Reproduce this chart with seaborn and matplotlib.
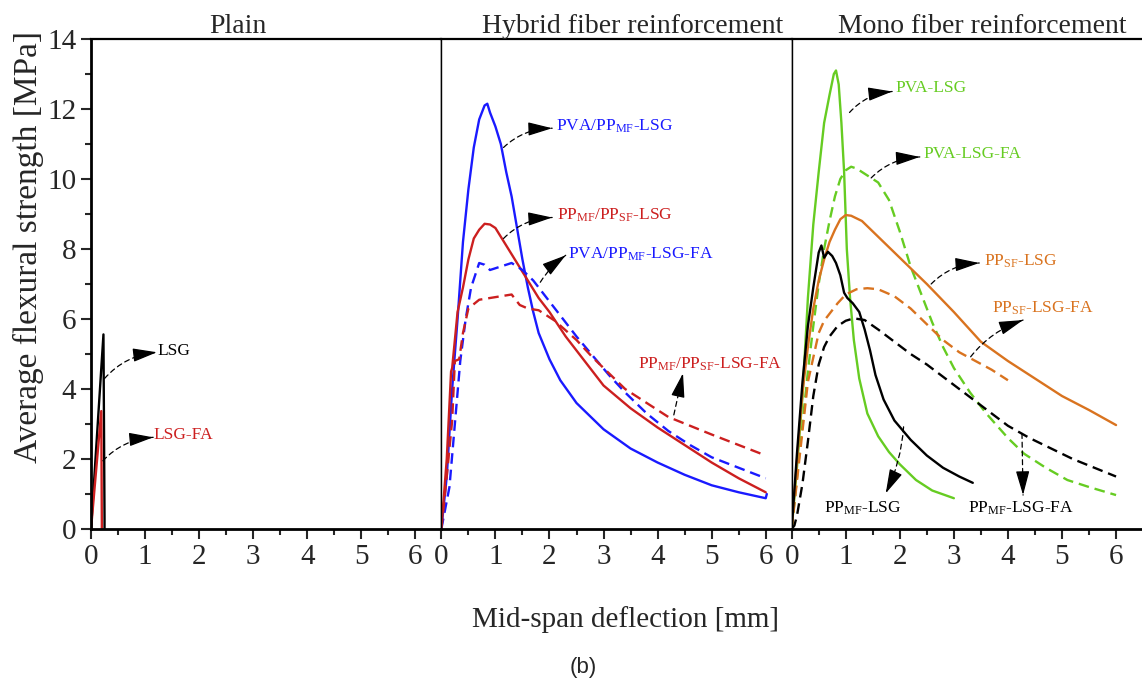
import numpy as np
import pandas as pd
import matplotlib
matplotlib.use('Agg')
import matplotlib.pyplot as plt
import seaborn as sns

# ---- data ----
# Plain
lsg_x = [0, 0.23, 0.25, 0.25]
lsg_y = [0, 5.56, 0.3, 0]
lsgfa_x = [0, 0.19, 0.2, 0.2]
lsgfa_y = [0, 3.37, 0.2, 0]

# Hybrid fiber reinforcement
pva_pp_x = [0, 0.1, 0.2, 0.3, 0.4, 0.5, 0.6, 0.7, 0.8, 0.85, 0.9, 1.0, 1.1, 1.2, 1.3, 1.4,
            1.5, 1.6, 1.7, 1.8, 2.0, 2.2, 2.5, 3.0, 3.5, 4.0, 4.5, 5.0, 5.5, 6.0, 6.02]
pva_pp_y = [0, 1.5, 4.0, 6.0, 8.2, 9.7, 10.9, 11.7, 12.1, 12.15, 11.9, 11.5, 11.0, 10.2, 9.5, 8.6,
            7.7, 6.9, 6.2, 5.6, 4.85, 4.25, 3.6, 2.85, 2.3, 1.9, 1.55, 1.25, 1.05, 0.88, 1.0]
pp_pp_x = [0, 0.1, 0.18, 0.2, 0.3, 0.4, 0.5, 0.6, 0.7, 0.8, 0.9, 1.0, 1.1, 1.2, 1.4, 1.6,
           1.8, 2.0, 2.3, 2.6, 3.0, 3.5, 4.0, 4.5, 5.0, 5.5, 6.0]
pp_pp_y = [0, 2.0, 4.5, 4.6, 6.2, 6.9, 7.7, 8.3, 8.55, 8.72, 8.7, 8.6, 8.35, 8.1, 7.6, 7.1,
           6.6, 6.2, 5.5, 4.9, 4.1, 3.45, 2.9, 2.4, 1.9, 1.45, 1.05]
pva_pp_fa_x = [0, 0.15, 0.25, 0.35, 0.45, 0.55, 0.7, 0.8, 0.9, 1.1, 1.3, 1.5, 1.7, 1.9,
               2.2, 2.5, 2.8, 3.1, 3.4, 3.8, 4.2, 4.6, 5.0, 5.5, 6.0]
pva_pp_fa_y = [0, 1.2, 3.0, 4.8, 6.0, 6.9, 7.6, 7.55, 7.4, 7.5, 7.6, 7.4, 7.1, 6.7,
               6.1, 5.5, 4.95, 4.4, 3.9, 3.3, 2.8, 2.4, 2.05, 1.75, 1.45]
pp_pp_fa_x = [0, 0.1, 0.2, 0.25, 0.33, 0.4, 0.5, 0.7, 0.9, 1.1, 1.3, 1.45, 1.6, 1.8, 2.1,
              2.5, 2.8, 3.1, 3.4, 3.8, 4.2, 4.6, 5.0, 5.5, 6.0]
pp_pp_fa_y = [0, 1.5, 3.1, 4.8, 4.85, 5.6, 6.3, 6.55, 6.6, 6.65, 6.7, 6.4, 6.3, 6.25, 5.95,
              5.4, 4.9, 4.45, 4.0, 3.6, 3.2, 2.95, 2.7, 2.4, 2.1]

# Mono fiber reinforcement
pva_x = [0, 0.1, 0.2, 0.3, 0.4, 0.5, 0.6, 0.7, 0.78, 0.82, 0.87, 0.92, 0.97, 1.02, 1.08,
         1.15, 1.25, 1.4, 1.6, 1.8, 2.0, 2.3, 2.6, 3.0]
pva_y = [0, 1.8, 3.8, 6.6, 8.7, 10.2, 11.6, 12.4, 13.0, 13.1, 12.7, 11.6, 10.2, 8.0, 6.6,
         5.4, 4.3, 3.3, 2.65, 2.2, 1.85, 1.4, 1.1, 0.88]
ppmf_x = [0, 0.1, 0.2, 0.3, 0.4, 0.5, 0.55, 0.6, 0.67, 0.75, 0.82, 0.9, 0.97, 1.03, 1.13,
          1.25, 1.35, 1.45, 1.55, 1.7, 1.9, 2.2, 2.5, 2.8, 3.1, 3.35]
ppmf_y = [0, 2.2, 4.2, 5.8, 6.9, 7.9, 8.1, 7.75, 7.92, 7.8, 7.6, 7.25, 6.75, 6.6, 6.45,
          6.2, 5.7, 5.1, 4.4, 3.7, 3.1, 2.55, 2.1, 1.75, 1.5, 1.32]
ppsf_x = [0, 0.1, 0.2, 0.3, 0.4, 0.5, 0.6, 0.7, 0.8, 0.9, 1.0, 1.1, 1.3, 1.5, 1.8, 2.1,
          2.5, 3.0, 3.5, 4.0, 4.5, 5.0, 5.5, 6.0]
ppsf_y = [0, 2.0, 3.9, 5.2, 6.3, 7.1, 7.7, 8.2, 8.55, 8.85, 8.97, 8.95, 8.8, 8.5, 8.05, 7.6,
          7.0, 6.2, 5.35, 4.8, 4.3, 3.8, 3.4, 2.97]
ppsf_fa_x = [0, 0.1, 0.2, 0.3, 0.4, 0.5, 0.6, 0.7, 0.85, 1.0, 1.2, 1.4, 1.6, 1.9, 2.2, 2.5,
             2.8, 3.1, 3.4, 3.7, 4.0]
ppsf_fa_y = [0, 1.4, 2.8, 4.2, 4.9, 5.6, 5.95, 6.15, 6.45, 6.7, 6.85, 6.88, 6.85, 6.65, 6.3,
             5.85, 5.4, 5.05, 4.8, 4.55, 4.25]
pva_fa_x = [0, 0.1, 0.2, 0.3, 0.4, 0.5, 0.6, 0.7, 0.8, 0.9, 1.0, 1.1, 1.2, 1.4, 1.6, 1.8,
            2.0, 2.2, 2.4, 2.6, 2.8, 3.0, 3.3, 3.6, 4.0, 4.3, 4.7, 5.1, 5.5, 6.0]
pva_fa_y = [0, 1.5, 3.0, 4.5, 5.8, 7.0, 8.0, 8.8, 9.5, 10.0, 10.25, 10.35, 10.3, 10.1, 9.9,
            9.4, 8.5, 7.5, 6.7, 5.9, 5.2, 4.6, 3.9, 3.3, 2.6, 2.15, 1.75, 1.4, 1.2, 0.97]
ppmf_fa_x = [0, 0.05, 0.1, 0.2, 0.3, 0.4, 0.5, 0.6, 0.7, 0.85, 1.0, 1.15, 1.35, 1.6, 1.9,
             2.2, 2.5, 2.8, 3.1, 3.4, 3.7, 4.0, 4.4, 4.8, 5.2, 5.6, 6.0]
ppmf_fa_y = [0, 0.1, 0.4, 1.3, 2.5, 3.8, 4.7, 5.2, 5.5, 5.8, 5.95, 6.02, 5.97, 5.7, 5.35,
             5.0, 4.7, 4.35, 4.0, 3.65, 3.3, 2.95, 2.6, 2.3, 2.0, 1.75, 1.5]

titles = ['Plain', 'Hybrid fiber reinforcement', 'Mono fiber reinforcement']

BLACK = 'black'
RED = '#CC1F1F'
BLUE = '#1A1AFF'
GREEN = '#66CC22'
ORANGE = '#D9731F'

sns.set_style('ticks')
plt.rcParams['font.family'] = ['Liberation Serif', 'DejaVu Serif']
plt.rcParams['mathtext.fontset'] = 'custom'
plt.rcParams['mathtext.rm'] = 'Liberation Serif'
plt.rcParams['mathtext.it'] = 'Liberation Serif:italic'

fig, axes = plt.subplots(1, 3, sharey=True, figsize=(11.42, 6.91), dpi=100)
fig.subplots_adjust(left=0.0797, right=1.0, bottom=0.2344, top=0.9436, wspace=0)

series = [
    (0, lsg_x, lsg_y, BLACK, '-'),
    (0, lsgfa_x, lsgfa_y, RED, '-'),
    (1, pva_pp_x, pva_pp_y, BLUE, '-'),
    (1, pp_pp_x, pp_pp_y, RED, '-'),
    (1, pva_pp_fa_x, pva_pp_fa_y, BLUE, '--'),
    (1, pp_pp_fa_x, pp_pp_fa_y, RED, '--'),
    (2, pva_x, pva_y, GREEN, '-'),
    (2, pva_fa_x, pva_fa_y, GREEN, '--'),
    (2, ppsf_x, ppsf_y, ORANGE, '-'),
    (2, ppsf_fa_x, ppsf_fa_y, ORANGE, '--'),
    (2, ppmf_x, ppmf_y, BLACK, '-'),
    (2, ppmf_fa_x, ppmf_fa_y, BLACK, '--'),
]
for i, xs, ys, c, ls in series:
    d = pd.DataFrame({'x': xs, 'y': ys})
    sns.lineplot(data=d, x='x', y='y', ax=axes[i], color=c, linestyle=ls,
                 linewidth=1.7, sort=False, estimator=None)
    if ls == '--':
        axes[i].lines[-1].set_dashes((4.5, 2.5))

for ax in axes:
    ax.set_xlim(0, 6.48)
    ax.set_ylim(0, 14)


def label(ax, text, tail, head, tx, ty, color, rad=-0.2, ha='left'):
    # dashed curved body
    ax.annotate('', xy=head, xytext=tail,
                arrowprops=dict(arrowstyle='-', linestyle=(0, (4, 3)), color='black',
                                lw=0.9, connectionstyle=f'arc3,rad={rad}',
                                shrinkA=0, shrinkB=0))
    # solid head, following the tangent of the arc at its end
    p0 = ax.transData.transform(tail)
    p2 = ax.transData.transform(head)
    mid = (p0 + p2) / 2
    dx, dy = p2 - p0
    p1 = mid + rad * np.array([dy, -dx])
    t = 0.9
    pt = (1 - t) ** 2 * p0 + 2 * (1 - t) * t * p1 + t ** 2 * p2
    start = ax.transData.inverted().transform(pt)
    ax.annotate('', xy=head, xytext=start,
                arrowprops=dict(arrowstyle='-|>,head_length=1.5,head_width=0.42',
                                color='black', lw=0.9, shrinkA=0, shrinkB=0))
    ax.text(tx, ty, text, color=color, fontsize=12.5, ha=ha, va='center')


a0, a1, a2 = axes
label(a0, 'LSG', (0.25, 4.3), (1.22, 5.05), 1.22, 5.1, BLACK)
label(a0, 'LSG-FA', (0.22, 1.95), (1.15, 2.62), 1.15, 2.7, RED)

label(a1, r'PVA/PP$_{\rm MF}$-LSG', (1.15, 10.9), (2.05, 11.45), 2.12, 11.5, BLUE)
label(a1, r'PP$_{\rm MF}$/PP$_{\rm SF}$-LSG', (1.15, 8.3), (2.05, 8.9), 2.14, 8.95, RED)
label(a1, r'PVA/PP$_{\rm MF}$-LSG-FA', (1.83, 7.05), (2.3, 7.82), 2.35, 7.85, BLUE, rad=-0.1)
label(a1, r'PP$_{\rm MF}$/PP$_{\rm SF}$-LSG-FA', (4.3, 3.26), (4.47, 4.45), 3.64, 4.72, RED, rad=0)

label(a2, 'PVA-LSG', (1.07, 11.9), (1.86, 12.5), 1.92, 12.6, GREEN)
label(a2, 'PVA-LSG-FA', (1.47, 10.03), (2.37, 10.63), 2.43, 10.7, GREEN)
label(a2, r'PP$_{\rm SF}$-LSG', (2.58, 7.0), (3.47, 7.6), 3.55, 7.66, ORANGE)
label(a2, r'PP$_{\rm SF}$-LSG-FA', (3.31, 4.92), (4.28, 5.97), 3.7, 6.3, ORANGE, rad=-0.15)
label(a2, r'PP$_{\rm MF}$-LSG', (2.07, 2.92), (1.74, 1.02), 1.32, 0.6, BLACK, rad=-0.1, ha='center')
label(a2, r'PP$_{\rm MF}$-LSG-FA', (4.26, 2.73), (4.28, 0.97), 4.24, 0.6, BLACK, rad=0, ha='center')

title_x = [0.42, 0.545, 0.543]
for k, ax in enumerate(axes):
    ax.set_xlabel('')
    ax.set_ylabel('')
    ax.set_xticks(range(7))
    ax.set_xticks(np.arange(0.5, 6.5, 1), minor=True)
    ax.tick_params(axis='x', which='major', direction='out', length=7, width=1.5,
                   labelsize=21, pad=4)
    ax.tick_params(axis='x', which='minor', direction='out', length=4, width=1.5)
    for s in ['top', 'bottom', 'left', 'right']:
        ax.spines[s].set_visible(True)
        ax.spines[s].set_color('black')
    ax.spines['bottom'].set_linewidth(2.0)
    ax.spines['top'].set_linewidth(1.6)
    ax.spines['left'].set_linewidth(1.0)
    ax.spines['right'].set_linewidth(1.0)
    ax.set_title(titles[k], fontsize=20, x=title_x[k], pad=3)
    if k > 0:
        ax.tick_params(axis='y', which='both', left=False, labelleft=False)

a0.spines['left'].set_linewidth(2.0)
a2.spines['right'].set_visible(False)
a0.set_yticks(range(0, 15, 2))
a0.set_yticks(range(1, 15, 2), minor=True)
a0.tick_params(axis='y', which='major', direction='out', length=7, width=1.5, labelsize=21)
a0.tick_params(axis='y', which='minor', direction='out', length=4, width=1.5)

fig.text(28 / 1142, 1 - 247 / 691, 'Average flexural strength [MPa]', rotation=90,
         fontsize=24, ha='center', va='center')
fig.text(625 / 1142, 1 - 620 / 691, 'Mid-span deflection [mm]', fontsize=21,
         ha='center', va='center')
fig.text(583 / 1142, 1 - 667 / 691, '(b)', fontsize=16, ha='center', va='center',
         family=['Liberation Sans', 'DejaVu Sans'])

fig.savefig('out.png', dpi=100)
